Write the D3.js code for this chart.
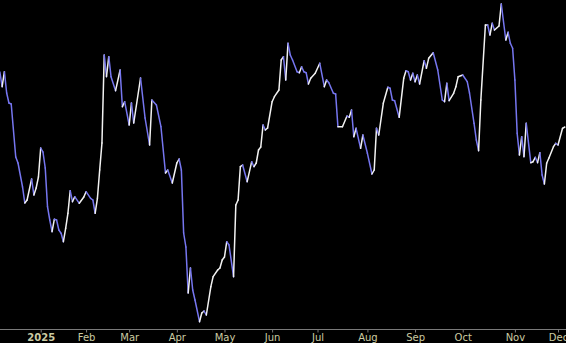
<!DOCTYPE html>
<html>
<head>
<meta charset="utf-8">
<script src="https://cdn.jsdelivr.net/npm/d3@7"></script>
<style>
  html, body { margin: 0; padding: 0; background: #000; }
  svg { display: block; }
</style>
</head>
<body>
<svg id="chart" width="566" height="343"></svg>
<script>
// trading-day index of each reading (index 18 = first trading day of 2025)
const days = [0, 1, 2, 3, 4, 5, 7, 8, 10, 11, 12, 14, 15, 16, 17, 18, 19, 20, 21, 22,
  23, 24, 25, 26, 27, 28, 29, 30, 31, 32, 33, 35, 37, 38, 40, 41, 42, 43, 44, 45,
  46, 47, 48, 49, 51, 53, 54, 55, 57, 58, 59, 62, 64, 66, 67, 69, 71, 73, 74, 76,
  78, 79, 80, 81, 82, 83, 84, 85, 86, 88, 89, 90, 91, 93, 94, 96, 97, 98, 99, 100,
  101, 103, 104, 105, 106, 107, 109, 111, 112, 113, 114, 115, 116, 117, 118, 120, 121, 123, 124, 125,
  126, 127, 128, 129, 131, 132, 133, 134, 135, 136, 137, 139, 141, 143, 144, 145, 147, 148, 149, 151,
  153, 154, 155, 156, 157, 159, 160, 162, 164, 165, 166, 167, 169, 171, 172, 173, 174, 176, 178, 179,
  180, 181, 182, 183, 184, 185, 187, 188, 189, 191, 193, 195, 196, 197, 198, 200, 201, 202, 204, 206,
  207, 209, 210, 211, 212, 214, 215, 216, 217, 218, 220, 221, 223, 224, 225, 226, 227, 228, 229, 230,
  231, 232, 234, 235, 236, 237, 238, 239, 240, 241, 242, 244, 245, 246, 248, 249];

const values = [45.80, 44.33, 45.83, 43.70, 42.70, 42.60, 37.30, 36.70, 34.30, 32.70, 33.00, 35.10, 33.50, 34.20, 35.30, 38.20, 37.80, 36.20, 32.33, 31.00,
  29.83, 31.07, 31.00, 30.00, 29.67, 28.83, 30.17, 31.67, 33.93, 32.83, 33.33, 32.67, 33.30, 33.83, 33.17, 33.00, 31.67, 33.17, 36.00, 38.70,
  47.50, 45.33, 47.33, 45.33, 43.93, 46.00, 42.33, 42.83, 40.50, 42.70, 40.70, 45.20, 41.20, 38.50, 43.00, 42.50, 40.33, 35.70, 36.00, 34.70,
  36.70, 37.10, 36.00, 29.70, 28.30, 23.70, 26.20, 24.00, 23.00, 20.83, 21.70, 21.90, 21.50, 24.33, 25.33, 26.00, 26.20, 27.00, 27.30, 28.83,
  28.50, 25.33, 32.50, 33.00, 36.33, 36.50, 34.83, 36.83, 36.33, 36.70, 38.00, 38.30, 40.50, 40.00, 40.20, 42.83, 43.33, 44.00, 47.00, 47.33,
  45.00, 48.67, 47.50, 47.00, 45.83, 45.73, 46.33, 45.83, 45.73, 44.60, 45.17, 45.67, 46.67, 44.33, 45.00, 44.73, 43.67, 43.60, 40.33, 40.33,
  41.40, 41.27, 42.00, 39.33, 40.17, 38.17, 39.50, 37.67, 35.60, 36.00, 40.17, 39.50, 42.67, 44.27, 44.17, 43.00, 42.93, 41.27, 45.17, 45.93,
  45.83, 45.00, 45.67, 44.83, 45.50, 44.60, 46.93, 46.17, 47.17, 47.73, 46.00, 43.00, 42.83, 44.67, 42.93, 43.67, 44.33, 45.33, 45.50, 44.83,
  43.70, 40.67, 39.00, 37.93, 43.00, 50.50, 50.50, 49.50, 50.67, 50.00, 50.40, 52.60, 49.00, 49.77, 48.67, 48.17, 45.00, 39.67, 37.50, 39.33,
  37.33, 40.67, 36.73, 36.83, 37.27, 36.73, 37.73, 35.50, 34.60, 36.67, 37.20, 38.33, 38.67, 38.50, 40.17, 40.30];

// first trading day of each month
const tickDays = [18, 38, 57, 78, 99, 120, 140, 162, 183, 204, 227, 246];
const tickLabels = ["2025", "Feb", "Mar", "Apr", "May", "Jun", "Jul", "Aug", "Sep", "Oct", "Nov", "Dec"];

const width = 566, height = 343;
const axisY = 329.5;

const svg = d3.select("#chart");
svg.append("rect").attr("width", width).attr("height", height).attr("fill", "#000");

let x = d3.scaleLinear().domain([18, 246]).range([40.7, 558]);
let y = d3.scaleLinear().domain([20, 53]).range([330, 0]);

let points = days.map((d, i) => ({ day: d, value: values[i] }));

// each step gets its own colour: white going up, blue going down
svg.append("g")
  .selectAll("line")
  .data(d3.pairs(points))
  .join("line")
  .attr("x1", (d) => x(d[0].day))
  .attr("y1", (d) => y(d[0].value))
  .attr("x2", (d) => x(d[1].day))
  .attr("y2", (d) => y(d[1].value))
  .attr("stroke", (d) => d[1].value >= d[0].value ? "#f2f2f2" : "#7676f0")
  .attr("stroke-width", 1.5)
  .attr("stroke-linecap", "round");

// axis
svg.append("line")
  .attr("x1", 0).attr("x2", width)
  .attr("y1", axisY).attr("y2", axisY)
  .attr("stroke", "#7a7a7a");

let axis = svg.append("g")
  .attr("transform", `translate(0,${axisY})`)
  .call(d3.axisBottom(x)
    .tickValues(tickDays)
    .tickFormat((d, i) => tickLabels[i])
    .tickSize(3)
    .tickPadding(1));

axis.select(".domain").remove();
axis.selectAll(".tick line").attr("stroke", "#7a7a7a");
axis.selectAll(".tick text")
  .attr("fill", "#cbcba3")
  .attr("font-family", "DejaVu Sans, sans-serif")
  .attr("font-size", 10)
  .attr("font-weight", (d, i) => i === 0 ? "bold" : "normal");
</script>
</body>
</html>
